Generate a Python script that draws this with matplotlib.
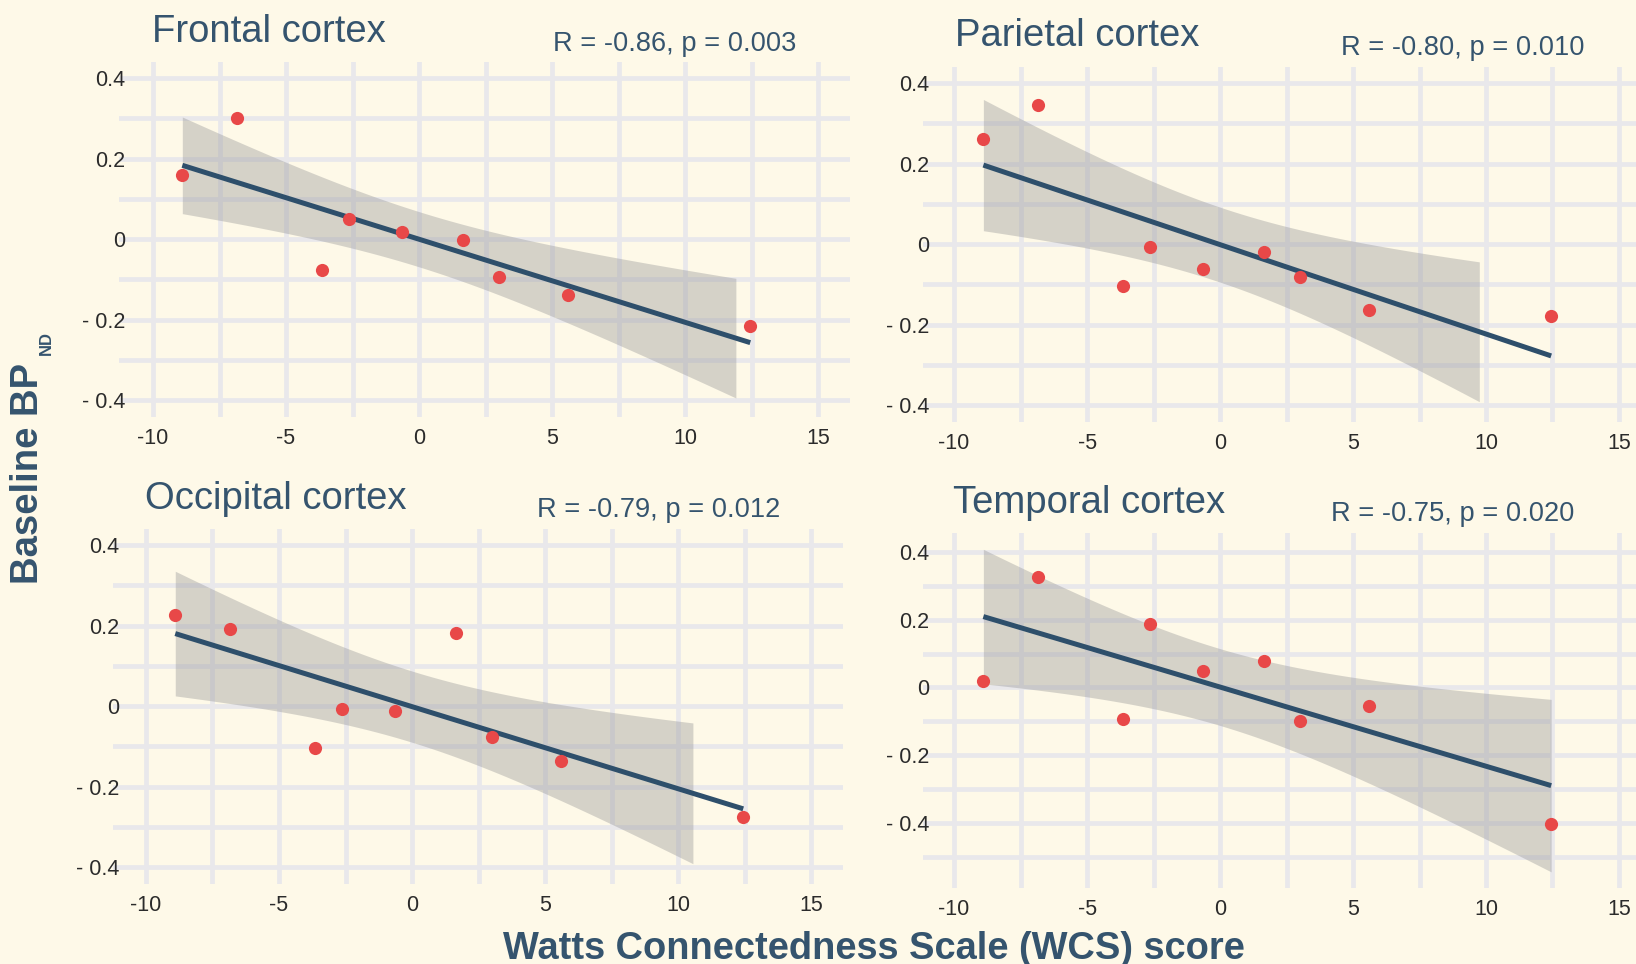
import matplotlib
matplotlib.use('Agg')
import matplotlib.pyplot as plt
import numpy as np

plt.rcParams['font.family'] = ['Liberation Sans', 'DejaVu Sans']

# Data
wcs = [-8.9, -6.85, -3.65, -2.65, -0.65, 1.65, 3.0, 5.6, 12.45]
frontal = [0.16, 0.30, -0.076, 0.05, 0.017, -0.002, -0.095, -0.14, -0.217]
parietal = [0.26, 0.346, -0.104, -0.008, -0.063, -0.019, -0.082, -0.163, -0.179]
occipital = [0.226, 0.191, -0.103, -0.007, -0.012, 0.182, -0.078, -0.136, -0.275]
temporal = [0.019, 0.326, -0.094, 0.187, 0.049, 0.079, -0.098, -0.055, -0.402]

regions = ['Frontal cortex', 'Parietal cortex', 'Occipital cortex', 'Temporal cortex']
stats = ['R = -0.86, p = 0.003', 'R = -0.80, p = 0.010',
         'R = -0.79, p = 0.012', 'R = -0.75, p = 0.020']
series = [frontal, parietal, occipital, temporal]

xticks = [-10, -5, 0, 5, 10, 15]
xticklabels = ['-10', '-5', '0', '5', '10', '15']
yticks = [-0.4, -0.2, 0, 0.2, 0.4]
yticklabels = ['- 0.4', '- 0.2', '0', '0.2', '0.4']

# colours
bg = '#FEF9E8'
grid_c = '#E9E8EB'
navy = '#2E4F6B'
title_c = '#35546E'
red = '#E84848'

W, H = 1636, 964
fig = plt.figure(figsize=(W / 100, H / 100), dpi=100, facecolor=bg)


def box(l, t, r, b):
    return [l / W, 1 - b / H, (r - l) / W, (b - t) / H]


# axes boxes in pixels (left, top, right, bottom), x-limits, y-limits, ribbon clip
layout = [
    (box(119, 62, 850, 417), (-11.28, 16.2), (-0.442, 0.44), (-0.4, 0.4)),
    (box(923, 67, 1636, 422), (-11.17, 15.64), (-0.442, 0.44), (-0.4, 0.4)),
    (box(113, 529, 843, 884), (-11.24, 16.2), (-0.442, 0.44), (-0.4, 0.4)),
    (box(923, 533, 1636, 888), (-11.17, 15.64), (-0.592, 0.456), (-0.6, 0.6)),
]
title_pos = [(152, 42), (955, 46), (145, 509), (953, 513)]
stat_pos = [(553, 51), (1341, 55), (537, 517), (1331, 521)]

t975 = 2.3646  # t quantile, df = 7
x = np.array(wcs)
xgrid = np.linspace(x.min(), x.max(), 80)

for i, ys in enumerate(series):
    rect, xl, yl, clip = layout[i]
    ax = fig.add_axes(rect)
    ax.set_facecolor(bg)
    ax.set_axisbelow(True)
    for s in ax.spines.values():
        s.set_visible(False)

    # linear fit with 95% confidence band
    y = np.array(ys)
    slope, icpt = np.polyfit(x, y, 1)
    fit = icpt + slope * xgrid
    resid = y - (icpt + slope * x)
    sd = np.sqrt(np.sum(resid ** 2) / (len(x) - 2))
    se = sd * np.sqrt(1 / len(x) + (xgrid - x.mean()) ** 2 / np.sum((x - x.mean()) ** 2))
    lo, hi = fit - t975 * se, fit + t975 * se
    keep = (lo >= clip[0]) & (hi <= clip[1])
    ax.fill_between(xgrid[keep], lo[keep], hi[keep], color='#999999', alpha=0.4,
                    linewidth=0, zorder=2)
    ax.plot(xgrid, fit, color=navy, linewidth=3.6, zorder=3, solid_capstyle='butt')
    ax.scatter(x, y, s=90, color=red, zorder=4, linewidths=0)

    ax.set_xticks(xticks)
    ax.set_xticklabels(xticklabels)
    ax.set_xticks(np.arange(-7.5, 15, 5), minor=True)
    ax.set_yticks(yticks)
    ax.set_yticklabels(yticklabels)
    ax.set_yticks(np.arange(-0.5, 0.45, 0.2), minor=True)
    ax.set_xlim(*xl)
    ax.set_ylim(*yl)
    ax.grid(True, which='both', color=grid_c, linewidth=3.4)
    ax.tick_params(which='both', length=0, labelsize=15.5, labelcolor='#2b2b2b')
    ax.tick_params(axis='x', pad=8)
    ax.tick_params(axis='y', pad=-4.5)

    tx, ty = title_pos[i]
    fig.text(tx / W, 1 - ty / H, regions[i], fontsize=27.5, color=title_c,
             ha='left', va='baseline')
    sx, sy = stat_pos[i]
    fig.text(sx / W, 1 - sy / H, stats[i], fontsize=19.6, color=title_c,
             ha='left', va='baseline')

# shared axis labels
fig.text(28.5 / W, 1 - 473 / H, 'Baseline BP', rotation=90, fontsize=27.5,
         fontweight='bold', color=title_c, ha='center', va='center')
fig.text(46 / W, 1 - 343 / H, 'ND', rotation=90, fontsize=12,
         fontweight='bold', color=title_c, ha='center', va='center')
fig.text(874 / W, 1 - 959 / H, 'Watts Connectedness Scale (WCS) score', fontsize=27.4,
         fontweight='bold', color=title_c, ha='center', va='baseline')

fig.savefig('out.png', dpi=100, facecolor=bg)
